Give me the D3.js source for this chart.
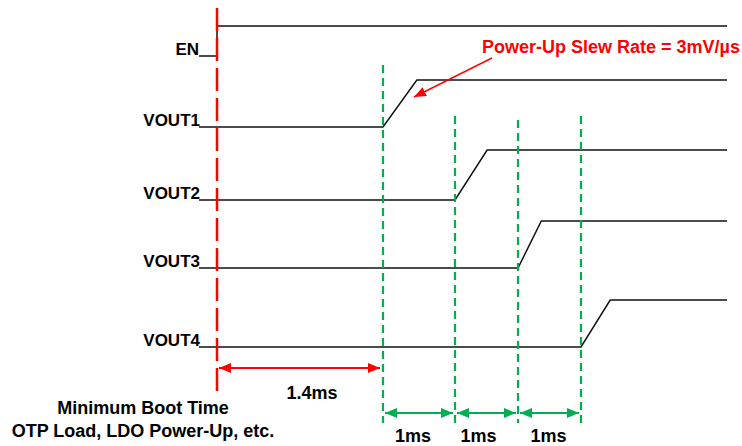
<!DOCTYPE html>
<html>
<head>
<meta charset="utf-8">
<script src="https://cdn.jsdelivr.net/npm/d3@7"></script>
<style>
  html, body { margin: 0; padding: 0; background: #fff; }
  text { font-family: "Liberation Sans", Arial, sans-serif; font-weight: bold; }
</style>
</head>
<body>
<svg id="chart" width="742" height="446"></svg>
<script>
// ---- data ----
const signals   = ["EN", "VOUT1", "VOUT2", "VOUT3", "VOUT4"];
const riseStart = [0, 1.4, 2.4, 3.4, 4.4];      // ms
const riseEnd   = [0, 1.87, 2.91, 3.77, 4.72];  // ms
const markerTimes = [1.4, 2.4, 3.4, 4.4];       // green markers, ms
const bootTime = 1.4;
const bootLabel = "1.4ms";
const stepLabels = ["1ms", "1ms", "1ms"];
const bootText = ["Minimum Boot Time", "OTP Load, LDO Power-Up, etc."];
const slewText = "Power-Up Slew Rate = 3mV/\u00B5s";
const tEnd = 6.0;

// ---- layout ----
const svg = d3.select("#chart");
const x = d3.scaleLinear()
  .domain([0, 1.4, 2.4, 3.4, 4.4, tEnd])
  .range([217, 383, 455, 518, 581, 727]);
const rowLow  = d3.scaleOrdinal().domain(signals).range([56, 127, 200, 268, 347]);
const rowHigh = d3.scaleOrdinal().domain(signals).range([26, 80, 150, 221, 300]);
const xStart = 199;
const red = "#ff0000", green = "#00b050";
const stepLabelShift = [-6, -8, -1];

// defs: arrowheads
const defs = svg.append("defs");
function marker(id, color, orient) {
  defs.append("marker")
    .attr("id", id).attr("viewBox", "0 0 12 10")
    .attr("refX", 12).attr("refY", 5)
    .attr("markerWidth", 12).attr("markerHeight", 10)
    .attr("markerUnits", "userSpaceOnUse")
    .attr("orient", orient)
    .append("path").attr("d", "M0,0 L12,5 L0,10 Z").attr("fill", color);
}
marker("redArrow", red, "auto-start-reverse");
marker("greenArrow", green, "auto-start-reverse");
marker("redArrowSmall", red, "auto");

// signal waveforms
const line = d3.line();
signals.forEach((s, i) => {
  const lo = rowLow(s), hi = rowHigh(s);
  const pts = [[xStart, lo], [x(riseStart[i]), lo], [x(riseEnd[i]), hi], [x(tEnd), hi]];
  svg.append("path").attr("d", line(pts))
    .attr("fill", "none").attr("stroke", "#111").attr("stroke-width", 1.5);
  svg.append("text").text(s)
    .attr("x", s === "EN" ? 199 : 200).attr("y", lo - 1)
    .attr("text-anchor", "end").attr("font-size", 17).attr("fill", "#000");
});

// red EN dashed marker
svg.append("line")
  .attr("x1", x(0)).attr("x2", x(0)).attr("y1", 8).attr("y2", 392)
  .attr("stroke", red).attr("stroke-width", 2.5)
  .attr("stroke-dasharray", "23,7");

// green dashed markers
const greenTop = [65, 116, 120, 116];
markerTimes.forEach((t, i) => {
  svg.append("line")
    .attr("x1", x(t)).attr("x2", x(t)).attr("y1", greenTop[i]).attr("y2", 423)
    .attr("stroke", green).attr("stroke-width", 2.2)
    .attr("stroke-dasharray", "8,5");
});

// boot time arrow
svg.append("line")
  .attr("x1", x(0) + 2).attr("x2", x(bootTime) - 3).attr("y1", 368).attr("y2", 368)
  .attr("stroke", red).attr("stroke-width", 2)
  .attr("marker-start", "url(#redArrow)").attr("marker-end", "url(#redArrow)");
svg.append("text").text(bootLabel)
  .attr("x", (x(0) + x(bootTime)) / 2 + 12).attr("y", 399)
  .attr("text-anchor", "middle").attr("font-size", 18).attr("fill", "#000");

// 1ms arrows
stepLabels.forEach((lab, i) => {
  const a = x(markerTimes[i]), b = x(markerTimes[i + 1]);
  svg.append("line")
    .attr("x1", a + 2).attr("x2", b - 2).attr("y1", 413).attr("y2", 413)
    .attr("stroke", green).attr("stroke-width", 2)
    .attr("marker-start", "url(#greenArrow)").attr("marker-end", "url(#greenArrow)");
  svg.append("text").text(lab)
    .attr("x", (a + b) / 2 + stepLabelShift[i]).attr("y", 442)
    .attr("text-anchor", "middle").attr("font-size", 18).attr("fill", "#000");
});

// boot description
bootText.forEach((t, i) => {
  svg.append("text").text(t)
    .attr("x", 143).attr("y", 414 + i * 23)
    .attr("text-anchor", "middle").attr("font-size", 18).attr("fill", "#000");
});

// slew rate annotation
svg.append("text").text(slewText)
  .attr("x", 740).attr("y", 53)
  .attr("text-anchor", "end").attr("font-size", 18).attr("fill", red);
svg.append("line")
  .attr("x1", 492).attr("y1", 58).attr("x2", 414).attr("y2", 97)
  .attr("stroke", red).attr("stroke-width", 1.5)
  .attr("marker-end", "url(#redArrowSmall)");
</script>
</body>
</html>
